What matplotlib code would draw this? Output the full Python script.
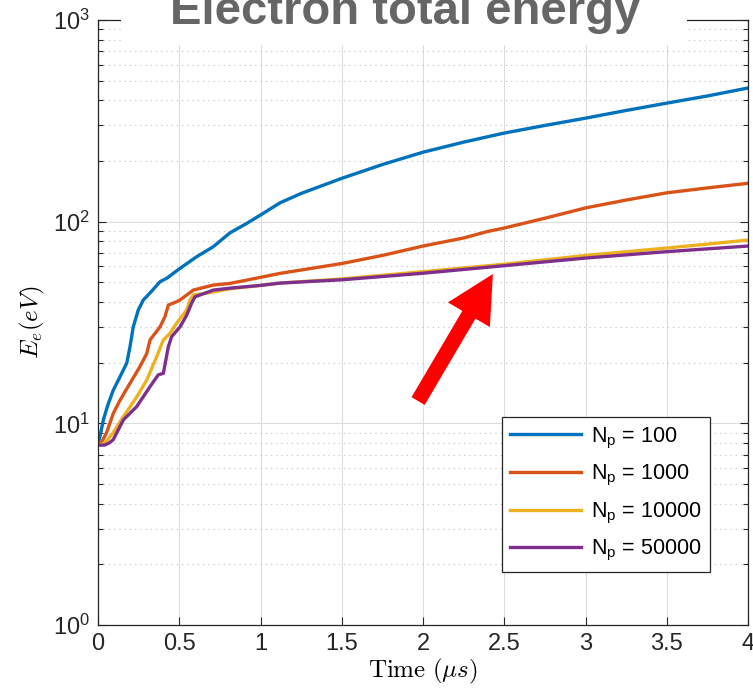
import matplotlib
matplotlib.use("Agg")
import matplotlib.pyplot as plt
from matplotlib.patches import Rectangle
from matplotlib.ticker import LogLocator

# ---------------- data ----------------
t_100 = [0, 0.012, 0.033, 0.06, 0.094, 0.135, 0.177, 0.197, 0.217, 0.248, 0.279, 0.32,
         0.382, 0.423, 0.505, 0.607, 0.708, 0.812, 0.915, 1.017, 1.12, 1.25, 1.5, 1.75,
         2.0, 2.25, 2.5, 2.75, 3.0, 3.25, 3.5, 3.75, 4.0]
e_100 = [7.9, 8.6, 10.4, 12.3, 14.6, 17.0, 19.9, 24.0, 30.1, 36.5, 40.9, 44.3,
         50.4, 52.4, 58.7, 67.0, 75.0, 88.0, 98.0, 110.0, 124.0, 138.0, 164.0, 192.0,
         221.0, 248.0, 275.0, 300.0, 326.0, 356.0, 387.0, 420.0, 460.0]

t_1000 = [0, 0.02, 0.053, 0.094, 0.135, 0.197, 0.258, 0.3, 0.32, 0.382, 0.412, 0.433,
          0.484, 0.505, 0.546, 0.587, 0.71, 0.812, 0.915, 1.12, 1.5, 1.75, 2.0, 2.25,
          2.4, 2.5, 2.75, 3.0, 3.25, 3.5, 3.75, 4.0]
e_1000 = [7.9, 8.0, 9.0, 11.2, 13.0, 15.8, 19.1, 22.2, 25.9, 30.1, 33.8, 38.6,
          40.1, 40.9, 43.3, 45.8, 48.5, 49.4, 51.3, 55.4, 62.0, 68.0, 75.7, 83.0,
          89.5, 93.0, 104.0, 117.0, 128.0, 139.0, 147.0, 155.0]

t_10000 = [0, 0.03, 0.06, 0.094, 0.156, 0.238, 0.3, 0.361, 0.402, 0.443, 0.484, 0.546,
           0.566, 0.587, 0.669, 0.71, 0.812, 1.0, 1.12, 1.5, 2.0, 2.5, 3.0, 3.5, 4.0]
e_10000 = [7.8, 7.9, 8.3, 9.0, 10.8, 13.5, 16.4, 21.4, 25.9, 27.9, 31.4, 36.5,
           40.9, 43.3, 44.2, 44.8, 46.5, 48.3, 49.6, 52.0, 56.5, 61.5, 68.0, 74.0, 81.0]

t_50000 = [0, 0.04, 0.07, 0.094, 0.156, 0.238, 0.32, 0.371, 0.402, 0.433, 0.453, 0.505,
           0.546, 0.576, 0.597, 0.71, 0.812, 1.0, 1.12, 1.5, 2.0, 2.5, 3.0, 3.5, 4.0]
e_50000 = [7.8, 7.8, 8.0, 8.3, 10.4, 12.1, 15.2, 17.4, 17.7, 24.0, 26.9, 30.1,
           34.4, 39.4, 42.4, 45.8, 46.8, 48.3, 49.6, 51.5, 55.5, 60.5, 66.0, 71.0, 75.7]

labels = [r"N$_\mathregular{p}$ = 100", r"N$_\mathregular{p}$ = 1000",
          r"N$_\mathregular{p}$ = 10000", r"N$_\mathregular{p}$ = 50000"]
colors = ["#0072BD", "#D95319", "#EDB120", "#7E2F8E"]
x_ticks = [0, 0.5, 1, 1.5, 2, 2.5, 3, 3.5, 4]
x_ticklabels = ["0", "0.5", "1", "1.5", "2", "2.5", "3", "3.5", "4"]

# ---------------- figure ----------------
plt.rcParams["font.family"] = ["Liberation Sans", "DejaVu Sans"]
plt.rcParams["mathtext.fontset"] = "custom"
plt.rcParams["mathtext.rm"] = "Liberation Sans"
plt.rcParams["mathtext.it"] = "Liberation Sans:italic"

fig = plt.figure(figsize=(7.53, 6.97), dpi=100)
ax = fig.add_axes([98 / 753, 1 - 625 / 697, 650 / 753, 605 / 697])

series = [(t_100, e_100), (t_1000, e_1000), (t_10000, e_10000), (t_50000, e_50000)]
for (t, e), c, lab in zip(series, colors, labels):
    ax.plot(t, e, color=c, lw=2.4, label=lab, solid_joinstyle="round")

ax.set_yscale("log")
ax.set_xlim(0, 4)
ax.set_ylim(1, 1000)
ax.set_xticks(x_ticks)
ax.set_xticklabels(x_ticklabels)
ax.yaxis.set_major_locator(LogLocator(base=10, numticks=10))
ax.yaxis.set_minor_locator(LogLocator(base=10, subs=range(2, 10), numticks=20))

ax.grid(True, which="major", color="#dcdcdc", lw=0.8, ls="-")
ax.grid(True, which="minor", axis="y", color="#c8c8c8", lw=0.8, ls=(0, (1.2, 3.5)))
ax.set_axisbelow(True)

for s in ax.spines.values():
    s.set_color("#262626")
    s.set_linewidth(0.9)
ax.tick_params(which="both", direction="in", top=True, right=True, colors="#262626",
               labelsize=17, width=0.8)
ax.tick_params(which="major", length=6, pad=6)
ax.tick_params(which="minor", length=3.5)

ax.set_xlabel(r"$\mathrm{Time}\ (\mu s)$", fontsize=18, math_fontfamily="cm", labelpad=1)
ax.set_ylabel(r"$E_e(eV)$", fontsize=18, math_fontfamily="cm", labelpad=4)

leg = ax.legend(loc="lower right", bbox_to_anchor=((710 - 98) / 650, (625 - 572) / 605),
                borderaxespad=0, fontsize=15.5, handlelength=3.3, handletextpad=0.45,
                labelspacing=0.58, fancybox=False, framealpha=1, edgecolor="#262626",
                borderpad=0.4)
leg.get_frame().set_linewidth(0.9)
for h in leg.get_lines():
    h.set_linewidth(2.4)

# red arrow annotation
ax.annotate("", xy=(2.43, 55.0), xytext=(1.97, 12.9),
            arrowprops=dict(arrowstyle="simple,head_length=3.4,head_width=3.5,tail_width=1.1",
                            mutation_scale=10, fc="red", ec="none", shrinkA=0, shrinkB=0))

# title with white background covering the top of the axes
fig.patches.append(Rectangle((121 / 753, 1 - 45 / 697), (687 - 121) / 753, 45 / 697,
                             transform=fig.transFigure, facecolor="white",
                             edgecolor="none", zorder=2))
fig.text(405 / 753, 1 - 24 / 697, "Electron total energy", ha="center", va="baseline",
         fontsize=34, fontweight="bold", color="#666666", zorder=3)

fig.savefig("out.png", dpi=100)
